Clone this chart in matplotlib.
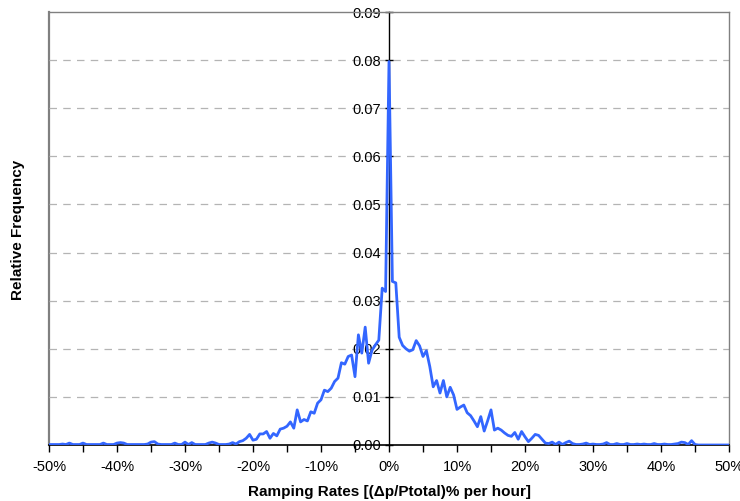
import numpy as np
import matplotlib
matplotlib.use("Agg")
import matplotlib.pyplot as plt
from matplotlib.ticker import FuncFormatter, MultipleLocator

plt.rcParams['font.family'] = ['Liberation Sans', 'DejaVu Sans']

# ramping rate bins, 0.5 % wide, -50 % .. +50 %
rate_bins = np.arange(-50.0, 50.5, 0.5)

# relative frequency, negative side (from -50 % up to -0.5 %)
freq_neg = [
    0.0001, 0.0001, 0.0001, 0.0001, 0.0002, 0.0001, 0.0004, 0.0001, 0.0001, 0.0001,
    0.0004, 0.0001, 0.0001, 0.0001, 0.0001, 0.0001, 0.0004, 0.0001, 0.0001, 0.0001,
    0.0004, 0.0005, 0.0004, 0.0001, 0.0001, 0.0001, 0.0001, 0.0001, 0.0001, 0.0002,
    0.0006, 0.0007, 0.0002, 0.0001, 0.0001, 0.0001, 0.0001, 0.0004, 0.0001, 0.0001,
    0.0006, 0.0001, 0.0005, 0.0001, 0.0001, 0.0001, 0.0001, 0.0004, 0.0006, 0.0004,
    0.0001, 0.0001, 0.0001, 0.0002, 0.0005, 0.0002, 0.0007, 0.0009, 0.0014, 0.0022,
    0.0010, 0.0012, 0.0023, 0.0023, 0.0028, 0.0014, 0.0024, 0.0019, 0.0033, 0.0035,
    0.0039, 0.0048, 0.0035, 0.0073, 0.0048, 0.0053, 0.0050, 0.0069, 0.0066, 0.0087,
    0.0094, 0.0114, 0.0111, 0.0118, 0.0132, 0.0139, 0.0171, 0.0168, 0.0184, 0.0187,
    0.0142, 0.0229, 0.0191, 0.0245, 0.0170, 0.0197, 0.0208, 0.0218, 0.0326, 0.0319,
]
freq_zero = 0.0797
# positive side (from +0.5 % up to +50 %)
freq_pos = [
    0.0340, 0.0337, 0.0224, 0.0207, 0.0200, 0.0195, 0.0198, 0.0217, 0.0206, 0.0184,
    0.0196, 0.0163, 0.0121, 0.0134, 0.0108, 0.0134, 0.0100, 0.0120, 0.0104, 0.0074,
    0.0079, 0.0083, 0.0067, 0.0061, 0.0050, 0.0038, 0.0059, 0.0029, 0.0050, 0.0073,
    0.0031, 0.0035, 0.0031, 0.0025, 0.0020, 0.0018, 0.0026, 0.0012, 0.0028, 0.0017,
    0.0007, 0.0014, 0.0022, 0.0020, 0.0012, 0.0004, 0.0003, 0.0006, 0.0001, 0.0006,
    0.0001, 0.0005, 0.0008, 0.0003, 0.0001, 0.0001, 0.0002, 0.0004, 0.0001, 0.0002,
    0.0001, 0.0001, 0.0002, 0.0005, 0.0001, 0.0001, 0.0003, 0.0001, 0.0001, 0.0003,
    0.0001, 0.0001, 0.0002, 0.0001, 0.0002, 0.0001, 0.0001, 0.0003, 0.0001, 0.0001,
    0.0002, 0.0001, 0.0001, 0.0002, 0.0003, 0.0006, 0.0005, 0.0001, 0.0009, 0.0001,
    0.0, 0.0, 0.0, 0.0, 0.0, 0.0, 0.0, 0.0, 0.0, 0.0,
]
freq = np.array(freq_neg + [freq_zero] + freq_pos)

fig = plt.figure(figsize=(7.40, 5.01), dpi=100)
ax = fig.add_axes([49 / 740, 56 / 501, 680 / 740, 433 / 501])

ax.set_xlim(-50, 50)
ax.set_ylim(0, 0.09)

# dashed horizontal grid
for g in np.arange(0.01, 0.085, 0.01):
    ax.axhline(g, color='#b4b4b4', lw=0.9, ls=(0, (6, 5)), zorder=1)

ax.plot(rate_bins, freq, color='#3366ff', lw=2.0, zorder=3)

# y axis sits at 0 %, grey box around the plot area
ax.spines['left'].set_position(('data', 0))
ax.spines['left'].set_color('black')
ax.spines['left'].set_linewidth(1.0)
ax.spines['left'].set_zorder(2)
ax.spines['bottom'].set_color('black')
ax.spines['bottom'].set_linewidth(1.2)
for side in ('top', 'right'):
    ax.spines[side].set_color('#808080')
    ax.spines[side].set_linewidth(1.0)
ax.axvline(-50, color='#808080', lw=1.6, clip_on=False, zorder=0)

ax.xaxis.set_major_locator(MultipleLocator(10))
ax.xaxis.set_minor_locator(MultipleLocator(5))
ax.xaxis.set_major_formatter(FuncFormatter(lambda v, p: f'{v:.0f}%'))
ax.yaxis.set_major_locator(MultipleLocator(0.01))
ax.yaxis.set_major_formatter(FuncFormatter(lambda v, p: f'{v:.2f}'))

ax.tick_params(axis='x', which='both', direction='out', length=5, width=1,
               labelsize=10.5, pad=6)
ax.tick_params(axis='y', direction='inout', length=6, width=1,
               labelsize=10.5, pad=3)

ax.set_xlabel('Ramping Rates [(Δp/Ptotal)% per hour]', fontsize=11,
              fontweight='bold', labelpad=8)
fig.text(18 / 740, 1 - 230 / 501, 'Relative Frequency', rotation=90,
         fontsize=11, fontweight='bold', ha='center', va='center')

fig.savefig('out.png', dpi=100)
